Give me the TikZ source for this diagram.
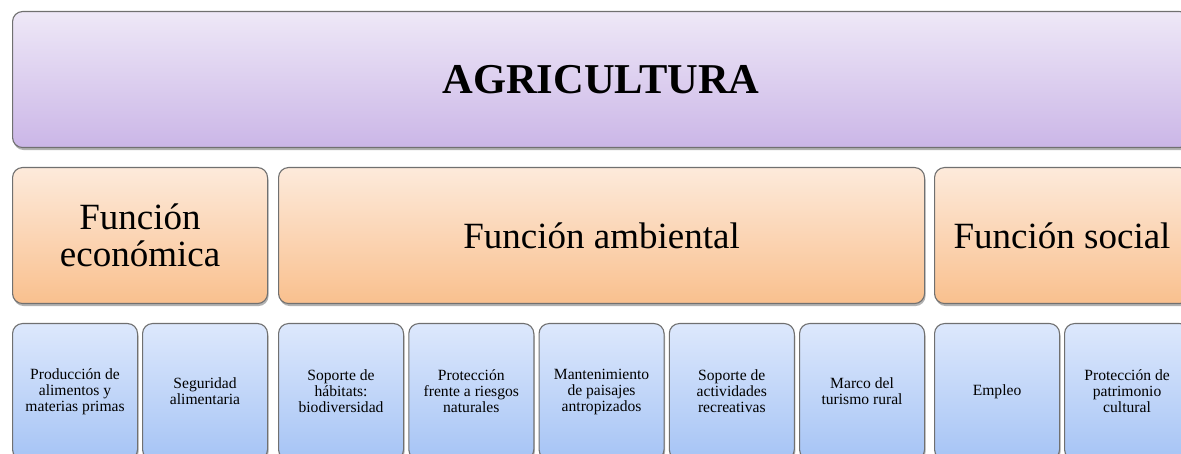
\documentclass[tikz,border=0pt]{standalone}
\usepackage{fontspec}
\setmainfont{Liberation Serif}
\usetikzlibrary{shadows}
\definecolor{lavT}{HTML}{EEE8F7}
\definecolor{lavB}{HTML}{CBB6E7}
\definecolor{orT}{HTML}{FDEADB}
\definecolor{orB}{HTML}{F9C08E}
\definecolor{blT}{HTML}{DDE8FC}
\definecolor{blB}{HTML}{A6C4F5}
\definecolor{edge}{HTML}{707070}
\tikzset{
 box/.style={draw=edge, line width=1.1pt, rounded corners=10pt, anchor=north west, inner sep=0pt, align=center,
   drop shadow={shadow xshift=1pt, shadow yshift=-2.5pt, opacity=0.3, fill=black}},
 topbox/.style={box, top color=lavT, bottom color=lavB, minimum height=136pt, font=\fontsize{42.5}{42}\selectfont\bfseries},
 midbox/.style={box, top color=orT, bottom color=orB, minimum height=136pt, font=\fontsize{37}{37}\selectfont},
 leafbox/.style={box, top color=blT, bottom color=blB, minimum width=125pt, minimum height=136pt, font=\fontsize{15.6}{16}\selectfont},
}
\begin{document}
\begin{tikzpicture}[x=1pt, y=-1pt]
\useasboundingbox (0,0) rectangle (1181,454);
\clip (0,0) rectangle (1181,454);
\node[topbox, minimum width=1177pt] (agri) at (12,11) {AGRICULTURA};
\node[midbox, minimum width=255pt] (eco) at (12,167) {Función\\económica};
\node[midbox, minimum width=646pt] (amb) at (278,167) {Función ambiental};
\node[midbox, minimum width=255pt] (soc) at (934,167) {Función social};
\node[leafbox] (l1) at (12,323) {Producción de\\alimentos y\\materias primas};
\node[leafbox] (l2) at (142,323) {Seguridad\\alimentaria};
\node[leafbox] (l3) at (278,323) {Soporte de\\hábitats:\\biodiversidad};
\node[leafbox] (l4) at (408.25,323) {Protección\\frente a riesgos\\naturales};
\node[leafbox] (l5) at (538.5,323) {Mantenimiento\\de paisajes\\antropizados};
\node[leafbox] (l6) at (668.75,323) {Soporte de\\actividades\\recreativas};
\node[leafbox] (l7) at (799,323) {Marco del\\turismo rural};
\node[leafbox] (l8) at (934,323) {Empleo};
\node[leafbox] (l9) at (1064,323) {Protección de\\patrimonio\\cultural};
\end{tikzpicture}
\end{document}
